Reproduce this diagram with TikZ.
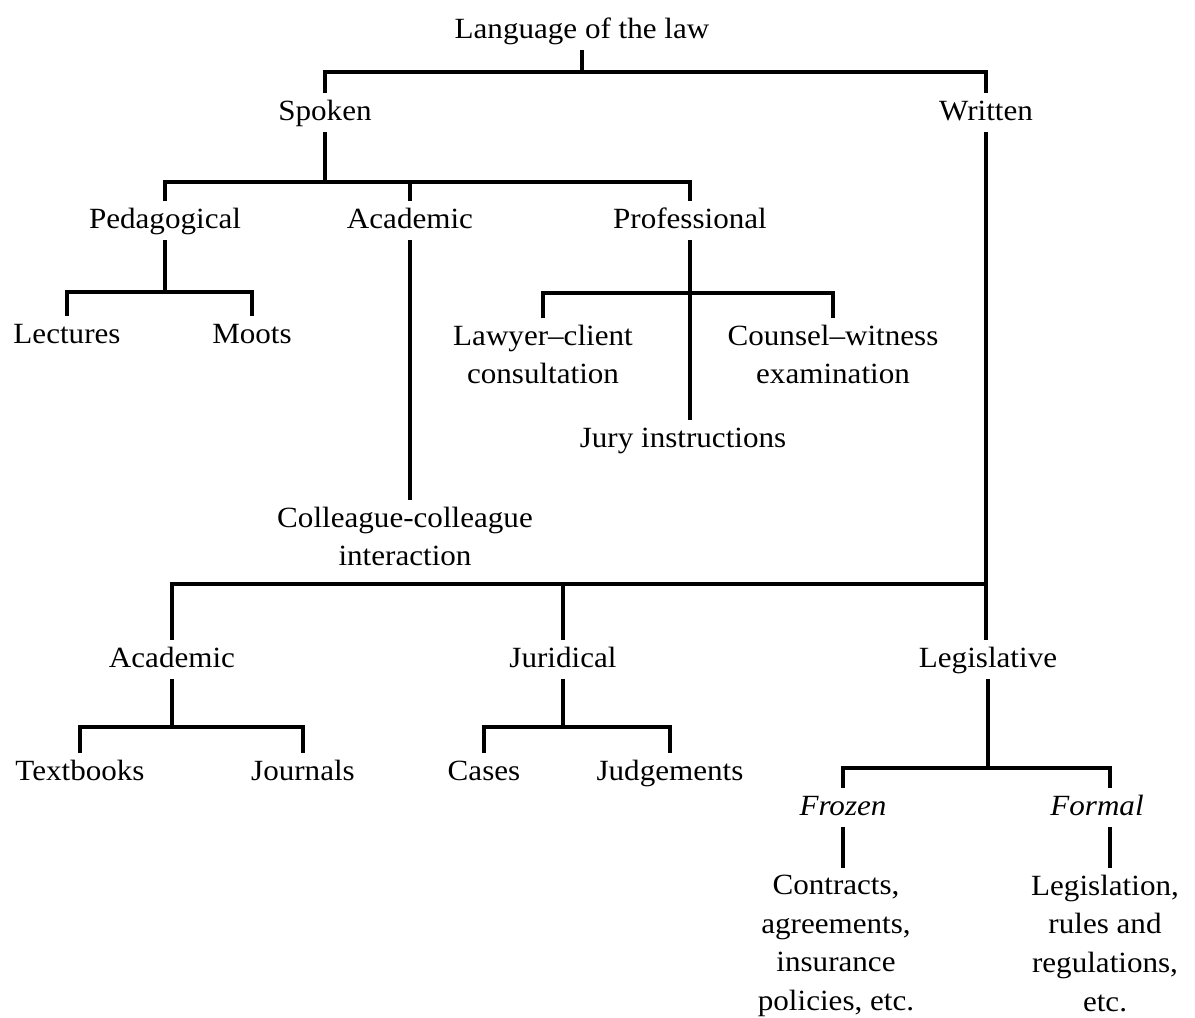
\documentclass[tikz,border=0pt]{standalone}
\usepackage{fontspec}
\setmainfont[FakeStretch=1.06]{Liberation Serif}
\begin{document}
\begin{tikzpicture}[x=0.75pt,y=-0.75pt,
  every node/.style={font=\fontsize{22}{29}\selectfont, inner sep=0pt},
  lbl/.style={anchor=base, text height=16pt, text depth=5pt, inner ysep=4pt},
  ml/.style={anchor=north, align=center, inner ysep=5pt},
  edge/.style={line width=2.5pt}]
\useasboundingbox (0,0) rectangle (1195,1017);

% nodes
\node[lbl] (lang) at (582,38) {Language of the law};
\node[lbl] (spoken) at (325,120) {Spoken};
\node[lbl] (written) at (986,120) {Written};
\node[lbl] (ped) at (165,228) {Pedagogical};
\node[lbl] (acad) at (410,228) {Academic};
\node[lbl] (prof) at (690,228) {Professional};
\node[lbl] (lect) at (67,343) {Lectures};
\node[lbl] (moots) at (252,343) {Moots};
\node[ml] (lawyer) at (543,318) {Lawyer–client\\consultation};
\node[ml] (counsel) at (833,318) {Counsel–witness\\examination};
\node[lbl] (jury) at (683,447) {Jury instructions};
\node[ml] (coll) at (405,500) {Colleague-colleague\\interaction};
\node[lbl] (wacad) at (172,667) {Academic};
\node[lbl] (jur) at (563,667) {Juridical};
\node[lbl] (legis) at (988,667) {Legislative};
\node[lbl] (textb) at (80,780) {Textbooks};
\node[lbl] (jour) at (303,780) {Journals};
\node[lbl] (cases) at (484,780) {Cases};
\node[lbl] (judg) at (670,780) {Judgements};
\node[lbl] (frozen) at (843,815) {\itshape Frozen};
\node[lbl] (formal) at (1097,815) {\itshape Formal};
\node[ml] (contr) at (836,868) {Contracts,\\agreements,\\insurance\\policies, etc.};
\node[ml] (legisl) at (1105,868) {Legislation,\\rules and\\regulations,\\etc.};

% junction points
\coordinate (b1) at (580,72);
\coordinate (b2) at (325,182);
\coordinate (b3) at (165,292);
\coordinate (b4) at (692,293);
\coordinate (b5) at (988,584);
\coordinate (b6) at (176,727);
\coordinate (b7) at (563,727);
\coordinate (b8) at (988,768);
\coordinate (fm) at ([xshift=9.75pt]formal.north);
\coordinate (fs) at ([xshift=9.75pt]formal.south);

% connectors
\draw[edge] (lang.south) -- (lang.south |- b1);
\draw[edge] (spoken.north) |- (b1) -| (written.north);

\draw[edge] (spoken.south) -- (b2);
\draw[edge] (ped.north) |- (b2) -| (prof.north);
\draw[edge] (acad.north) -- (acad.north |- b2);

\draw[edge] (ped.south) -- (b3);
\draw[edge] (lect.north) |- (b3) -| (moots.north);

\draw[edge] (acad.south) -- (acad.south |- coll.north);

\draw[edge] (prof.south) -- (prof.south |- jury.north);
\draw[edge] (lawyer.north) |- (b4) -| (counsel.north);

\draw[edge] (written.south) -- (written.south |- legis.north);
\draw[edge] (wacad.north) |- (b5);
\draw[edge] (jur.north) -- (jur.north |- b5);

\draw[edge] (wacad.south) -- (wacad.south |- b6);
\draw[edge] (textb.north) |- (b6) -| (jour.north);

\draw[edge] (jur.south) -- (b7);
\draw[edge] (cases.north) |- (b7) -| (judg.north);

\draw[edge] (legis.south) -- (b8);
\draw[edge] (frozen.north) |- (b8) -| (fm);

\draw[edge] (frozen.south) -- (frozen.south |- contr.north);
\draw[edge] (fs) -- (fs |- legisl.north);
\end{tikzpicture}
\end{document}
